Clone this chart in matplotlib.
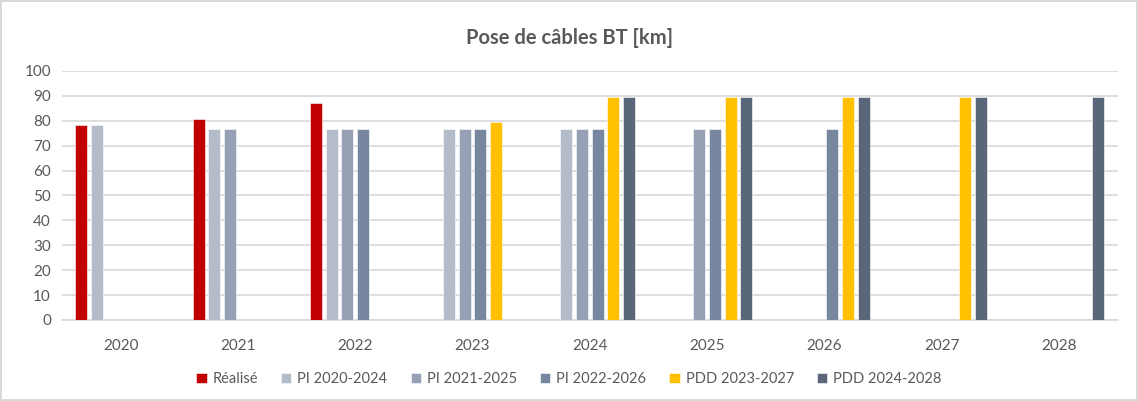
import numpy as np
import matplotlib.pyplot as plt

# Data
years = ['2020', '2021', '2022', '2023', '2024', '2025', '2026', '2027', '2028']
nan = np.nan
realise = [78.2, 80.6, 87.0, nan, nan, nan, nan, nan, nan]
pi_2020 = [78.5, 76.6, 76.6, 76.6, 76.6, nan, nan, nan, nan]
pi_2021 = [nan, 76.6, 76.6, 76.6, 76.6, 76.6, nan, nan, nan]
pi_2022 = [nan, nan, 76.6, 76.6, 76.6, 76.6, 76.6, nan, nan]
pdd_2023 = [nan, nan, nan, 79.5, 89.7, 89.7, 89.7, 89.7, nan]
pdd_2024 = [nan, nan, nan, nan, 89.7, 89.7, 89.7, 89.7, 89.7]

series = [
    ('Réalisé', realise, '#C00000'),
    ('PI 2020-2024', pi_2020, '#B4BBC9'),
    ('PI 2021-2025', pi_2021, '#96A1B6'),
    ('PI 2022-2026', pi_2022, '#7887A0'),
    ('PDD 2023-2027', pdd_2023, '#FFC000'),
    ('PDD 2024-2028', pdd_2024, '#5A6679'),
]

plt.rcParams['font.family'] = ['Lato', 'DejaVu Sans']
text_col = '#595959'

fig = plt.figure(figsize=(11.38, 4.01), dpi=100)
fig.patch.set_edgecolor('#D9D9D9')
fig.patch.set_linewidth(1.5)
ax = fig.add_axes([0.0545, 0.202, 0.9275, 0.621])

x = np.arange(len(years))
pitch = 0.134
width = 0.103
for i, (name, vals, col) in enumerate(series):
    ax.bar(x + (i - 2.5) * pitch, vals, width, color=col, label=name,
           edgecolor='white', linewidth=0.4, zorder=3)

ax.set_xlim(-0.5, len(years) - 0.5)
ax.set_ylim(0, 100)
ax.set_yticks(range(0, 101, 10))
ax.set_xticks(x)
ax.set_xticklabels(years)
ax.grid(axis='y', color='#D9D9D9', linewidth=1.2, zorder=0)
for s in ['top', 'right', 'left']:
    ax.spines[s].set_visible(False)
ax.spines['bottom'].set_color('#D9D9D9')
ax.spines['bottom'].set_linewidth(1.2)
ax.tick_params(axis='both', length=0, colors=text_col, labelsize=11)
ax.tick_params(axis='x', pad=14)
ax.tick_params(axis='y', pad=8)

fig.text(0.5, 0.905, 'Pose de câbles BT [km]', ha='center', va='center',
         fontsize=14.5, fontweight='bold', color=text_col)

leg = fig.legend(loc='center', bbox_to_anchor=(0.5, 0.055), ncol=6, frameon=False,
                 fontsize=10.5, handlelength=0.7, handleheight=0.7, handletextpad=0.4,
                 columnspacing=1.6, labelcolor=text_col)

fig.savefig('out.png', dpi=100)
